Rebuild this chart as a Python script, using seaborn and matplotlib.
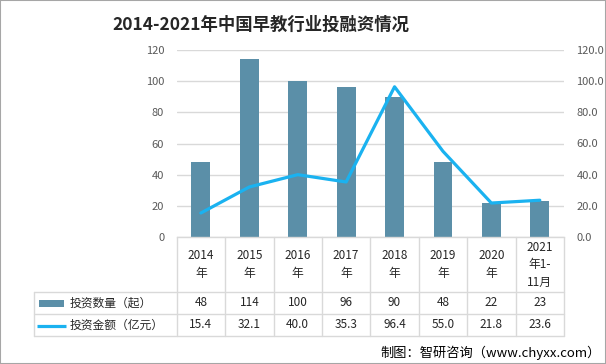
import matplotlib
matplotlib.use("Agg")
import matplotlib.pyplot as plt
import seaborn as sns
import numpy as np
import pandas as pd
from matplotlib.patches import Rectangle

categories = ["2014年", "2015年", "2016年", "2017年", "2018年", "2019年", "2020年", "2021年1-11月"]
header_labels = ["2014\n年", "2015\n年", "2016\n年", "2017\n年", "2018\n年", "2019\n年", "2020\n年", "2021\n年1-\n11月"]
counts = [48, 114, 100, 96, 90, 48, 22, 23]
amounts = [15.4, 32.1, 40.0, 35.3, 96.4, 55.0, 21.8, 23.6]
count_labels = ["48", "114", "100", "96", "90", "48", "22", "23"]
amount_labels = ["15.4", "32.1", "40.0", "35.3", "96.4", "55.0", "21.8", "23.6"]
left_ticks = [0, 20, 40, 60, 80, 100, 120]
right_ticks = [0, 20, 40, 60, 80, 100, 120]
bar_name = "投资数量（起）"
line_name = "投资金额（亿元）"
title = "2014-2021年中国早教行业投融资情况"
footer = "制图：智研咨询（www.chyxx.com）"

sns.set_theme(style="white")
plt.rcParams['font.family'] = ['Noto Sans CJK SC', 'DejaVu Sans']

BAR_C = "#5B8FA8"
LINE_C = "#1AB2F0"
GRID_C = "#D9D9D9"
TICK_C = "#595959"

W, H = 606, 364
fig = plt.figure(figsize=(W / 100, H / 100), dpi=100)

def fx(px):
    return px / W

def fy(py):
    return 1 - py / H

pl, pr, pt, pb = 176.7, 564.0, 50.0, 237.0
ax = fig.add_axes([fx(pl), fy(pb), fx(pr - pl), (pb - pt) / H])

df = pd.DataFrame({"cat": categories, "count": counts, "amount": amounts})
sns.barplot(data=df, x="cat", y="count", ax=ax, color=BAR_C, width=0.39,
            saturation=1, edgecolor=BAR_C, linewidth=0)
ax.set_ylim(0, 120)
ax.set_yticks(left_ticks)
ax.set_yticklabels([str(t) for t in left_ticks], color=TICK_C, fontsize=8)
ax.tick_params(axis="y", length=0, pad=9)
ax.set_xticks([])
ax.set_xlabel("")
ax.set_ylabel("")
ax.grid(axis="y", color=GRID_C, linewidth=1)
ax.set_axisbelow(True)
for s in ["top", "right", "left"]:
    ax.spines[s].set_visible(False)
ax.spines["bottom"].set_color(GRID_C)
ax.spines["bottom"].set_linewidth(1)

ax2 = ax.twinx()
xs = np.arange(len(categories))
sns.lineplot(x=xs, y=amounts, ax=ax2, color=LINE_C, linewidth=2.3, sort=False)
ax2.set_ylim(0, 120)
ax2.set_yticks(right_ticks)
ax2.set_yticklabels([f"{t:.1f}" for t in right_ticks], color=TICK_C, fontsize=8)
ax2.tick_params(axis="y", length=0, pad=9)
ax2.set_ylabel("")
for s in ["top", "right", "left", "bottom"]:
    ax2.spines[s].set_visible(False)
ax.set_xlim(-0.5, len(categories) - 0.5)
ax2.set_xlim(-0.5, len(categories) - 0.5)

# data table
tt, tb = 237.0, 336.0
tax = fig.add_axes([fx(pl), fy(tb), fx(pr - pl), (tb - tt) / H])
tax.set_xlim(-0.5, len(categories) - 0.5)
tax.set_ylim(tb - tt, 0)
tax.axis("off")
n = len(categories)
colw = (pr - pl) / n
left_edge = -0.5 - (pl - 34.0) / colw
r1, r2, r3 = 55.0, 77.0, 99.0
lc = GRID_C
for i in range(n + 1):
    tax.plot([i - 0.5, i - 0.5], [0, r3], color=lc, lw=1, clip_on=False)
for yy in [r1, r2, r3]:
    tax.plot([left_edge, n - 0.5], [yy, yy], color=lc, lw=1, clip_on=False)
tax.plot([left_edge, left_edge], [r1, r3], color=lc, lw=1, clip_on=False)

for i in range(n):
    tax.text(i, r1 / 2, header_labels[i], ha="center", va="center", fontsize=8.5,
             color="#262626", linespacing=1.45)
    tax.text(i, (r1 + r2) / 2, count_labels[i], ha="center", va="center", fontsize=8.5, color="#262626")
    tax.text(i, (r2 + r3) / 2, amount_labels[i], ha="center", va="center", fontsize=8.5, color="#262626")

# legend keys inside table
def dx(px):
    return -0.5 - (pl - px) / colw

tax.add_patch(Rectangle((dx(39), (r1 + r2) / 2 - 3.5), (64 - 39) / colw, 7,
                        facecolor=BAR_C, edgecolor="none", clip_on=False))
tax.plot([dx(37), dx(66)], [(r2 + r3) / 2 + 0.5] * 2, color=LINE_C, lw=2.3,
         clip_on=False, solid_capstyle="butt")
tax.text(dx(70), (r1 + r2) / 2, bar_name, ha="left", va="center", fontsize=8.5, color="#262626")
tax.text(dx(70), (r2 + r3) / 2, line_name, ha="left", va="center", fontsize=8.5, color="#262626")

fig.text(fx(261), fy(25), title, ha="center", va="center", fontsize=12.5,
         fontweight="bold", color="#262626")
fig.text(fx(601), fy(353), footer, ha="right", va="center", fontsize=9.5, color="#000000")

fig.patches.append(Rectangle((0, 0), 1, 1, transform=fig.transFigure, fill=False,
                             edgecolor="#A6A6A6", linewidth=1.5))

fig.savefig("out.png", dpi=100)
